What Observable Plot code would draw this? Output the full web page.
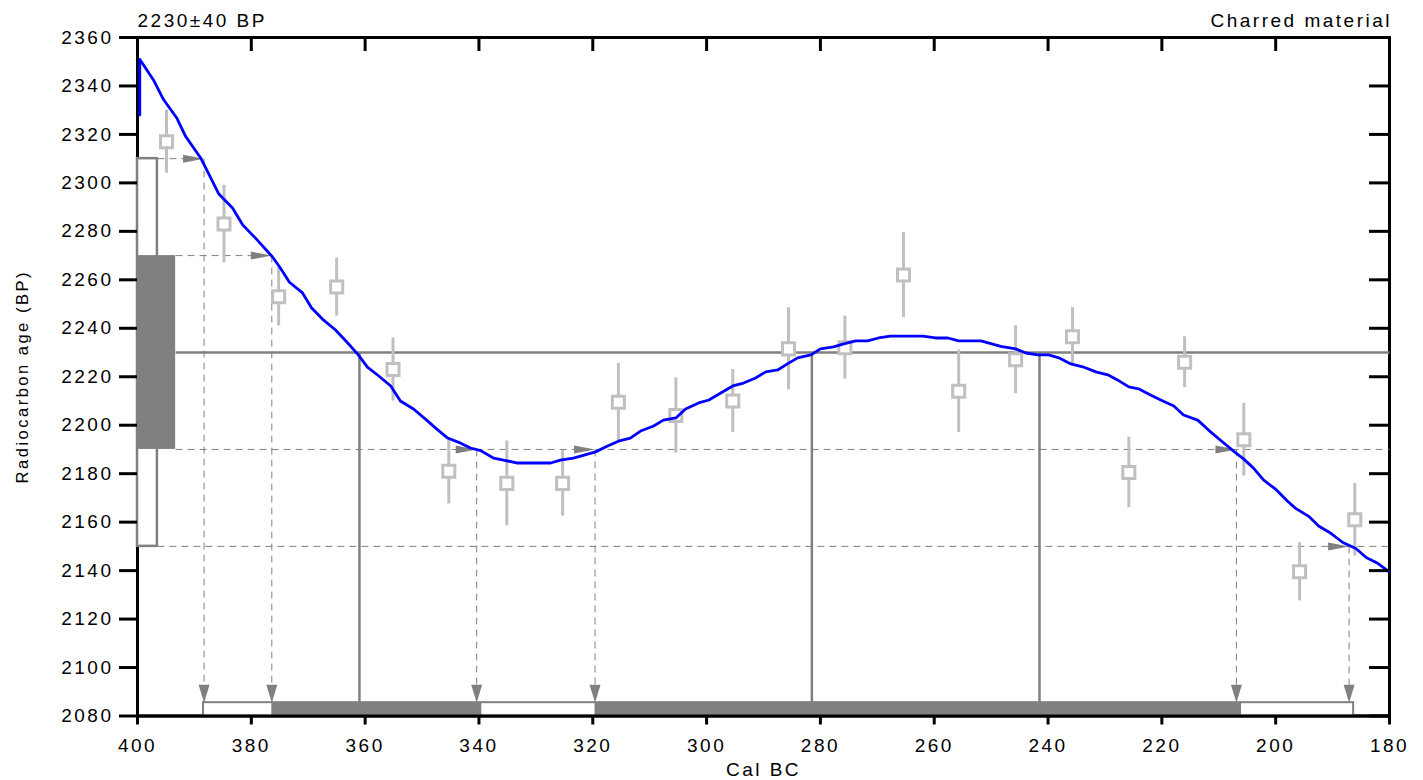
<!DOCTYPE html>
<html><head><meta charset="utf-8">
<script src="https://cdn.jsdelivr.net/npm/d3@7"></script>
<script src="https://cdn.jsdelivr.net/npm/@observablehq/plot@0.6"></script>
<style>
html,body{margin:0;padding:0;background:#fff;}
#chart svg{display:block;}
#chart text{letter-spacing:2.5px;}
#chart g[aria-label="ylabel"] text{letter-spacing:1.7px;}
</style></head><body><div id="chart"></div>
<script>
// ---- calibration curve (Cal BC, radiocarbon BP) ----
const curveYears = [399.6,399.6,397.2,395.4,393.1,391.6,388.9,385.7,383.3,381.5,379.1,376.3,374.9,373.3,371.0,369.4,367.5,365.2,363.1,361.2,359.6,357.6,355.5,353.8,351.5,349.4,347.6,345.5,343.2,341.5,339.7,337.4,335.7,333.2,327.4,325.7,323.4,319.5,317.4,315.5,313.4,311.6,309.3,307.6,305.4,303.7,301.4,299.6,297.5,295.4,293.5,291.4,289.6,287.5,285.8,284.0,281.7,280.0,277.7,275.9,273.8,271.7,269.8,267.7,262.0,259.8,257.6,255.7,251.8,248.3,245.7,243.9,241.8,239.9,238.1,236.0,233.9,231.6,229.5,227.8,225.8,224.1,222.0,220.2,217.9,216.2,213.7,211.8,209.7,207.4,205.6,203.9,202.1,200.0,197.9,196.5,194.2,192.4,190.3,188.2,185.9,184.1,182.0,180.1];
const curveBP = [2328,2351,2342.5,2334.3,2326.8,2319.4,2310.3,2295.4,2289.6,2282.6,2276.8,2269.5,2264.9,2259,2254.6,2248.4,2243.8,2239.3,2234,2229,2224,2220.3,2216.2,2210,2206.7,2202.5,2198.8,2194.7,2192.6,2190.6,2189.5,2186.4,2185.6,2184.4,2184.4,2185.6,2186.4,2189,2191.4,2193.4,2194.7,2197.6,2199.7,2202.1,2203,2206.7,2209.2,2210.4,2213.3,2216.2,2217.4,2219.5,2222,2222.8,2225.3,2227.8,2229,2231.5,2232.3,2233.6,2234.8,2234.8,2236,2236.8,2236.8,2236,2236,2234.8,2234.8,2232.5,2231.5,2229.8,2229,2229,2227.8,2225.3,2224.1,2222,2220.8,2218.7,2215.8,2215,2212.5,2210.4,2207.9,2204.2,2202.1,2198,2193.8,2189.3,2186,2182.3,2177.3,2173.6,2168.6,2165.7,2162.4,2158.3,2155.4,2151.6,2149.1,2145.4,2142.9,2139.6];

// ---- raw calibration data points ----
const dataYears = [394.9,384.8,375.2,365.0,355.1,345.3,335.1,325.3,315.5,305.4,295.4,285.6,275.7,265.4,255.7,245.7,235.7,225.8,216.0,205.6,195.8,186.1];
const dataBP    = [2317,2283,2253,2257,2223,2181,2176,2176,2209.5,2204,2210,2231.5,2232,2262,2214,2227,2236.5,2180.5,2226,2194,2139.5,2161];
const dataErr   = [13,16,12,12,13,13.5,17.5,13.5,16,15.5,13,17,13,17.5,17,14,12,14.5,10.5,15,12,15];

// ---- measurement ----
const measuredBP = 2230;
const measuredSigma = 40;
const sigma1 = [measuredBP - measuredSigma, measuredBP + measuredSigma]; // 2190..2270
const sigma2 = [measuredBP - 2*measuredSigma, measuredBP + 2*measuredSigma]; // 2150..2310

// ---- curve intercepts ----
const interceptYears = [361.0, 281.5, 241.5];
const arrowLevels = [2310, 2270, 2190, 2190, 2190, 2150];
const arrowYears  = [388.3, 376.4, 340.4, 319.6, 206.9, 187.1];
const oneSigmaFrom = [376.4, 319.6];
const oneSigmaTo   = [339.5, 206.0];
const twoSigmaFrom = [388.4];
const twoSigmaTo   = [186.3];

// ---- ticks ----
const xTicks = [400,380,360,340,320,300,280,260,240,220,200,180];
const yTicks = [2080,2100,2120,2140,2160,2180,2200,2220,2240,2260,2280,2300,2320,2340,2360];
const xDomain = [400, 180];
const yDomain = [2080, 2360];

const topLeftText = "2230±40 BP";
const topRightText = "Charred material";
const xLabel = "Cal BC";
const yLabel = "Radiocarbon age (BP)";

// ---- build tables ----
const curve = curveYears.map((x, i) => ({x, y: curveBP[i]}));
const points = dataYears.map((x, i) => ({x, y: dataBP[i], e: dataErr[i]}));
const arrows = arrowYears.map((x, i) => ({x, y: arrowLevels[i]}));
const oneBars = oneSigmaFrom.map((a, i) => ({x1: a, x2: oneSigmaTo[i]}));
const twoBars = twoSigmaFrom.map((a, i) => ({x1: a, x2: twoSigmaTo[i]}));

const W = 1423, H = 780, mL = 137, mR = 34, mT = 37, mB = 64.5;
const frameW = W - mL - mR, frameH = H - mT - mB;
const outerBoxW = 3.5, innerBoxW = 6.7, barH = 5.5;
const grey = "#808080", light = "#c0c0c0";

const hLines = [
  {y: sigma2[1], x1: xDomain[0] - outerBoxW, x2: arrowYears[0]},
  {y: sigma1[1], x1: xDomain[0] - innerBoxW, x2: arrowYears[1]},
  {y: sigma1[0], x1: xDomain[0] - innerBoxW, x2: xDomain[1]},
  {y: sigma2[0], x1: xDomain[0] - outerBoxW, x2: xDomain[1]}
];

const arrowRight = {draw(c){c.moveTo(0,0);c.lineTo(-21,-4);c.lineTo(-21,4);c.closePath();}};
const arrowDown = {draw(c){c.moveTo(0,0);c.lineTo(-5.5,-18);c.lineTo(5.5,-18);c.closePath();}};
const barTop = yDomain[0] + barH;

const chart = Plot.plot({
  width: W, height: H,
  marginLeft: mL, marginRight: mR, marginTop: mT, marginBottom: mB,
  x: {domain: xDomain},
  y: {domain: yDomain},
  style: {fontFamily: "'Liberation Sans', Arial, sans-serif", fontSize: "19px", color: "black", background: "white"},
  marks: [
    Plot.frame({stroke: "black", strokeWidth: 3}),
    // left boxes
    Plot.rect([sigma2], {x1: () => xDomain[0], x2: () => xDomain[0] - outerBoxW, y1: d => d[0], y2: d => d[1], fill: "white", stroke: grey, strokeWidth: 2.5}),
    Plot.rect([sigma1], {x1: () => xDomain[0], x2: () => xDomain[0] - innerBoxW, y1: d => d[0], y2: d => d[1], fill: grey}),
    // dashed horizontal lines
    Plot.link(hLines, {x1: "x1", x2: "x2", y1: "y", y2: "y", stroke: grey, strokeWidth: 1, strokeDasharray: "7,5"}),
    // dashed vertical lines
    Plot.link(arrows, {x1: "x", x2: "x", y1: "y", y2: () => barTop, stroke: grey, strokeWidth: 1, strokeDasharray: "7,5"}),
    // measured age line
    Plot.link([measuredBP], {x1: () => xDomain[0] - innerBoxW, x2: () => xDomain[1], y1: d => d, y2: d => d, stroke: grey, strokeWidth: 2.5}),
    // intercept lines
    Plot.ruleX(interceptYears, {x: d => d, y1: () => measuredBP, y2: () => barTop, stroke: grey, strokeWidth: 2.5}),
    // calibrated ranges
    Plot.rect(twoBars, {x1: "x1", x2: "x2", y1: () => yDomain[0], y2: () => barTop, fill: "white", stroke: grey, strokeWidth: 2}),
    Plot.rect(oneBars, {x1: "x1", x2: "x2", y1: () => yDomain[0], y2: () => barTop, fill: grey}),
    Plot.ruleY([yDomain[0]], {y: d => d, stroke: "black", strokeWidth: 3}),
    // data points
    Plot.ruleX(points, {x: "x", y1: d => d.y - d.e, y2: d => d.y + d.e, stroke: light, strokeWidth: 3}),
    Plot.dot(points, {x: "x", y: "y", symbol: "square", r: 6.8, fill: "white", stroke: light, strokeWidth: 3}),
    // arrows
    Plot.dot(arrows, {x: "x", y: "y", symbol: arrowRight, r: 5, fill: grey, stroke: "none"}),
    Plot.dot(arrows, {x: "x", y: () => barTop, symbol: arrowDown, r: 5, fill: grey, stroke: "none"}),
    // calibration curve
    Plot.line(curve, {x: "x", y: "y", stroke: "#0000ff", strokeWidth: 2.8}),
    // axes
    Plot.axisX(xTicks, {anchor: "bottom", tickSize: 9, tickPadding: 13, tickFormat: "d", fontSize: 19, strokeWidth: 3, label: null}),
    Plot.tickX(xTicks, {x: d => d, insetBottom: frameH - 14, stroke: "black", strokeWidth: 3}),
    Plot.axisY(yTicks, {anchor: "left", tickSize: 18, tickPadding: 6, tickFormat: "d", fontSize: 19, strokeWidth: 3, label: null}),
    Plot.tickY(yTicks, {y: d => d, insetLeft: frameW - 20, stroke: "black", strokeWidth: 3}),
    // texts
    Plot.text([topLeftText], {frameAnchor: "top-left", textAnchor: "start", lineAnchor: "bottom", dy: -11, fontSize: 19}),
    Plot.text([topRightText], {frameAnchor: "top-right", textAnchor: "end", lineAnchor: "bottom", dy: -11, dx: 2.5, fontSize: 19}),
    Plot.text([xLabel], {frameAnchor: "bottom", textAnchor: "middle", lineAnchor: "bottom", dy: 60, fontSize: 19}),
    Plot.text([yLabel], {frameAnchor: "left", rotate: -90, textAnchor: "middle", lineAnchor: "bottom", dx: -110, fontSize: 16.5, ariaLabel: "ylabel"})
  ]
});
document.getElementById("chart").appendChild(chart);
</script>
</body></html>
